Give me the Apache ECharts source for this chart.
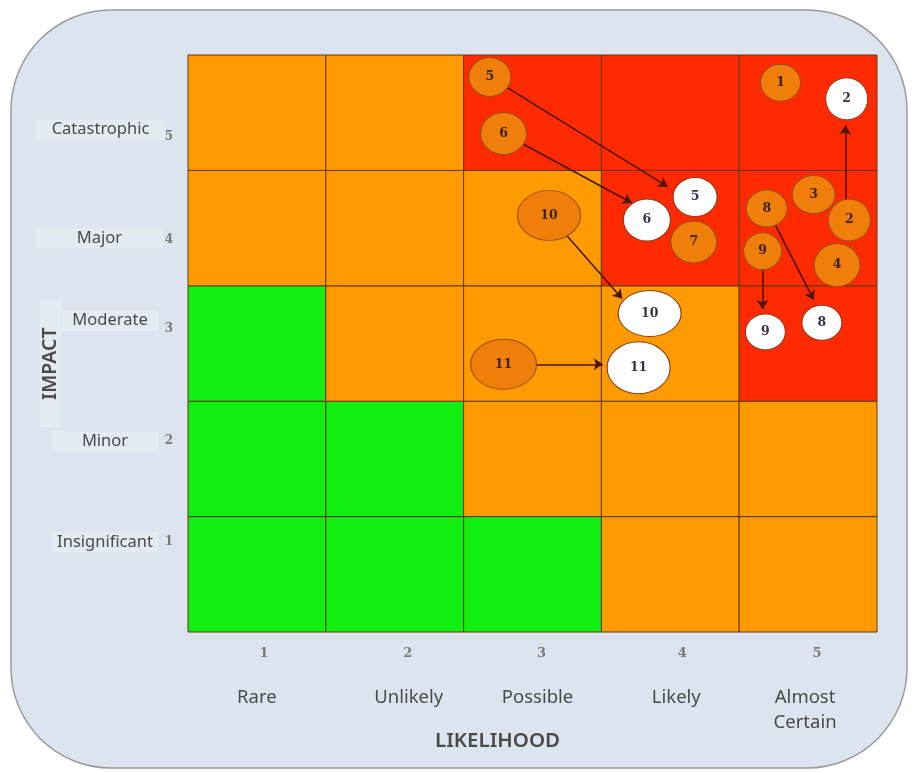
<!DOCTYPE html>
<html><head><meta charset="utf-8">
<script src="https://cdn.jsdelivr.net/npm/echarts@6/dist/echarts.min.js"></script>
<style>html,body{margin:0;padding:0;background:#fff}#c{width:918px;height:772px}</style>
</head><body><div id="c"></div>
<script>
// ---- data ----
const likelihoodLabels = ['Rare', 'Unlikely', 'Possible', 'Likely', 'Almost\nCertain'];
const likelihoodTicks = ['1', '2', '3', '4', '5'];
const impactLabels = ['Insignificant', 'Minor', 'Moderate', 'Major', 'Catastrophic'];
const impactTicks = ['1', '2', '3', '4', '5'];
// risk level per cell (rows impact 1..5, columns likelihood 1..5): 0 low, 1 medium, 2 high
const riskLevels = [
  [0, 0, 0, 1, 1],
  [0, 0, 1, 1, 1],
  [0, 1, 1, 1, 2],
  [1, 1, 1, 2, 2],
  [1, 1, 2, 2, 2]
];
// risks before treatment: [likelihood, impact, id]
const beforeRisks = [
  [4.30, 4.76, '1'], [4.80, 3.57, '2'], [4.54, 3.79, '3'], [4.71, 3.18, '4'],
  [2.19, 4.81, '5'], [2.29, 4.32, '6'], [3.67, 3.38, '7'], [4.20, 3.67, '8'],
  [4.17, 3.30, '9'], [2.62, 3.61, '10'], [2.29, 2.32, '11']
];
// risks after treatment
const afterRisks = [
  [4.78, 4.62, '2'], [3.68, 3.77, '5'], [3.33, 3.57, '6'], [4.60, 2.68, '8'],
  [4.19, 2.60, '9'], [3.35, 2.76, '10'], [3.27, 2.29, '11']
];
// movement arrows: [from, to]
const movements = [
  [[2.19, 4.81], [3.48, 3.86]],
  [[2.29, 4.32], [3.22, 3.72]],
  [[4.77, 3.70], [4.77, 4.39]],
  [[2.62, 3.61], [3.15, 2.89]],
  [[4.20, 3.67], [4.54, 2.88]],
  [[4.17, 3.30], [4.17, 2.80]],
  [[2.29, 2.32], [3.01, 2.32]]
];

// ---- styles ----
const cellColors = ['#11ee11', '#ff9a00', '#ff2a00'];
const beforeSize = {'1':[40,37],'2':[42,42],'3':[43,38],'4':[46,43],'5':[42,39],'6':[46,42],'7':[46,42],'8':[41,37],'9':[38,37],'10':[63,50],'11':[66,50]};
const afterSize = {'2':[42,42],'5':[44,39],'6':[47,42],'8':[40,35],'9':[40,36],'10':[63,46],'11':[63,52]};
const yNameShift = [-32, -18, -23, 10, 17];
const yNameBoxW = [106, 106, 96, 127, 129];
const yNameRightGap = [7, 7, 7, 2, 0];
const yTickShift = [-32, -18, -15, 12, 24];
const xNameShift = [0, 14, 5, 6, -3];
const xTickShift = [7, 13, 9, 12, 9];
const boxColor = '#e4eaf2';

const cells = [];
riskLevels.forEach((row, r) => row.forEach((lv, c) => cells.push([c + 1, r + 1, lv])));

function pad(d) { return d > 0 ? [2 * d, 0, 0, 0] : [0, 0, -2 * d, 0]; }
function hpad(d) { return d > 0 ? [0, 0, 0, 2 * d] : [0, -2 * d, 0, 0]; }
const yNameRich = {}, yTickRich = {}, xNameRich = {}, xTickRich = {};
for (let i = 0; i < 5; i++) {
  yNameRich['s' + i] = {width: yNameBoxW[i], align: 'center', fontSize: 16.5, lineHeight: 21, height: 21, color: '#4a4a4a', fontFamily: 'Noto Sans', backgroundColor: boxColor};
  yNameRich['r' + i] = {width: yNameRightGap[i], fontSize: 15, lineHeight: 21};
  yNameRich['sp' + i] = {fontSize: 2, lineHeight: Math.abs(2 * yNameShift[i]), height: Math.abs(2 * yNameShift[i])};
  yTickRich['s' + i] = {fontSize: 12, color: '#7a7a7a', fontFamily: 'DejaVu Serif', fontWeight: 'bold', padding: pad(yTickShift[i])};
  xNameRich['s' + i] = {fontSize: 18.5, lineHeight: 25, color: '#4a4a4a', fontFamily: 'Noto Sans', padding: hpad(xNameShift[i])};
  xTickRich['s' + i] = {fontSize: 13, color: '#7a7a7a', fontFamily: 'DejaVu Serif', fontWeight: 'bold', padding: hpad(xTickShift[i])};
}
function yNameFormatter(v, i) {
  const main = '{s' + i + '|' + v + '}{r' + i + '| }';
  const sp = '{sp' + i + '| }';
  return yNameShift[i] > 0 ? sp + '\n' + main : main + '\n' + sp;
}
const noLine = {show: false};

const chart = echarts.init(document.getElementById('c'), null, {renderer: 'canvas'});
chart.setOption({
  animation: false,
  backgroundColor: '#ffffff',
  graphic: [
    {type: 'rect', z: -10, shape: {x: 11, y: 10, width: 896, height: 758, r: 100},
     style: {fill: '#dbe4ef', stroke: '#9a9a9a', lineWidth: 1.5}},
    {type: 'text', left: 435, top: 731, z: 10,
     style: {text: 'LIKELIHOOD', font: '600 20.5px "Noto Sans"', fill: '#4a4a4a'}},
    {type: 'text', x: 40, y: 427, rotation: Math.PI / 2, z: 10,
     style: {text: 'IMPACT', font: '600 19.5px "Noto Sans"', fill: '#4a4a4a',
             backgroundColor: boxColor, padding: [0, 27, 0, 27], lineHeight: 21}}
  ],
  grid: {left: 188, right: 41, top: 55, bottom: 140, outerBoundsMode: 'none'},
  xAxis: [
    {type: 'value', min: 0, max: 5, interval: 0.5, position: 'bottom',
     axisLine: noLine, axisTick: noLine, splitLine: noLine,
     axisLabel: {margin: 15, formatter: v => (v % 1 === 0.5 ? '{s' + Math.floor(v) + '|' + likelihoodTicks[Math.floor(v)] + '}' : ''), rich: xTickRich}},
    {type: 'category', data: likelihoodLabels, position: 'bottom',
     axisLine: noLine, axisTick: noLine, splitLine: noLine,
     axisLabel: {interval: 0, margin: 53, formatter: (v, i) => v.split('\n').map(t => '{s' + i + '|' + t + '}').join('\n'), rich: xNameRich}}
  ],
  yAxis: [
    {type: 'value', min: 0, max: 5, interval: 0.5, position: 'left',
     axisLine: noLine, axisTick: noLine, splitLine: noLine,
     axisLabel: {margin: 15, formatter: v => (v % 1 === 0.5 ? '{s' + Math.floor(v) + '|' + impactTicks[Math.floor(v)] + '}' : ''), rich: yTickRich}},
    {type: 'category', data: impactLabels, position: 'left',
     axisLine: noLine, axisTick: noLine, splitLine: noLine,
     axisLabel: {interval: 0, margin: 23, formatter: yNameFormatter, rich: yNameRich}}
  ],
  series: [
    {type: 'custom', xAxisIndex: 0, yAxisIndex: 0, z: 1, data: cells, silent: true,
     renderItem: (params, api) => {
       const c = api.value(0), r = api.value(1), lv = api.value(2);
       const p1 = api.coord([c - 1, r]), p2 = api.coord([c, r - 1]);
       return {type: 'rect', shape: {x: p1[0], y: p1[1], width: p2[0] - p1[0], height: p2[1] - p1[1]},
               style: {fill: cellColors[lv], stroke: '#5e3a12', lineWidth: 1}};
     }},
    {type: 'lines', coordinateSystem: 'cartesian2d', xAxisIndex: 0, yAxisIndex: 0, z: 3,
     symbol: ['none', 'arrow'], symbolSize: 9,
     lineStyle: {color: '#4a1606', width: 1.6, opacity: 1},
     data: movements.map(m => ({coords: m}))},
    {type: 'scatter', xAxisIndex: 0, yAxisIndex: 0, z: 4,
     data: beforeRisks.map(d => ({value: [d[0], d[1]], name: d[2], symbolSize: beforeSize[d[2]]})),
     itemStyle: {color: '#ef7e0a', borderColor: '#9a4c10', borderWidth: 1, opacity: 1},
     label: {show: true, position: 'inside', formatter: p => p.name, fontFamily: 'DejaVu Serif', fontWeight: 'bold', fontSize: 12.5, color: '#3b2415'}},
    {type: 'scatter', xAxisIndex: 0, yAxisIndex: 0, z: 5,
     data: afterRisks.map(d => ({value: [d[0], d[1]], name: d[2], symbolSize: afterSize[d[2]]})),
     itemStyle: {color: '#ffffff', borderColor: '#8a3a1a', borderWidth: 1, opacity: 1},
     label: {show: true, position: 'inside', formatter: p => p.name, fontFamily: 'DejaVu Serif', fontWeight: 'bold', fontSize: 12.5, color: '#3b3040'}}
  ]
});
</script>
</body></html>
